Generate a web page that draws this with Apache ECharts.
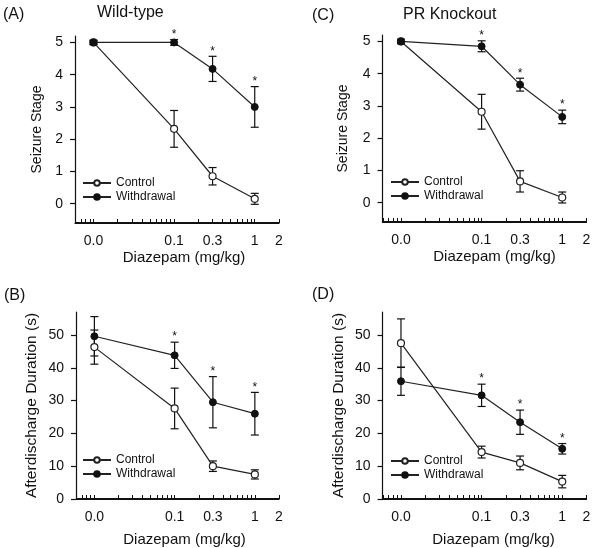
<!DOCTYPE html>
<html>
<head>
<meta charset="utf-8">
<script src="https://cdn.jsdelivr.net/npm/echarts@6/dist/echarts.min.js"></script>
<style>html,body{margin:0;padding:0;background:#fff}#c{width:600px;height:548px;background:#fff}</style>
</head>
<body>
<div id="c"></div>
<script>
// ---- data ----
// Dose groups (mg/kg). The "0.0" (vehicle) group is drawn at the 0.01 position of the log axis.
const doses = [0.01, 0.1, 0.3, 1];
const xTickValues = [0.01, 0.1, 0.3, 1, 2];
const xTickLabels = ['0.0', '0.1', '0.3', '1', '2'];
const xAllTicks = [0.006, 0.007, 0.008, 0.009, 0.01, 0.02, 0.03, 0.04, 0.05, 0.06, 0.07, 0.08, 0.09,
                   0.1, 0.2, 0.3, 0.4, 0.5, 0.6, 0.7, 0.8, 0.9, 1, 2];
const stageTicks = [0, 1, 2, 3, 4, 5];
const durationTicks = [0, 10, 20, 30, 40, 50];

// (A) Wild-type, seizure stage
const wtStageControl = [5.0, 2.32, 0.85, 0.15];
const wtStageControlErr = [0.05, 0.57, 0.27, 0.17];
const wtStageWithdrawal = [5.0, 5.0, 4.18, 3.0];
const wtStageWithdrawalErr = [0.07, 0.09, 0.39, 0.63];
// (C) PR knockout, seizure stage
const koStageControl = [5.0, 2.82, 0.66, 0.16];
const koStageControlErr = [0.05, 0.54, 0.33, 0.17];
const koStageWithdrawal = [5.0, 4.85, 3.66, 2.66];
const koStageWithdrawalErr = [0.07, 0.17, 0.2, 0.21];
// (B) Wild-type, afterdischarge duration (s)
const wtDurControl = [46.3, 27.6, 10.0, 7.5];
const wtDurControlErr = [5.2, 6.2, 1.6, 1.4];
const wtDurWithdrawal = [49.6, 43.8, 29.5, 26.0];
const wtDurWithdrawalErr = [6.0, 4.0, 7.8, 6.5];
// (D) PR knockout, afterdischarge duration (s)
const koDurControl = [47.5, 14.3, 11.0, 5.3];
const koDurControlErr = [7.4, 1.8, 2.1, 1.9];
const koDurWithdrawal = [35.9, 31.6, 23.4, 15.3];
const koDurWithdrawalErr = [4.3, 3.4, 3.7, 1.6];
// significance marks (*) on withdrawal points
const sigWithdrawal = [0, 1, 1, 1];

// ---- chart ----
const FONT = '"Liberation Sans", Arial, Helvetica, sans-serif';
const INK = '#111';
const X_MIN = 0.0059, X_MAX = 2;

const panels = [
  { label: '(A)', title: 'Wild-type', grid: {left: 75, top: 36, width: 204, height: 187},
    yMin: -0.6, yMax: 5.2, yTicks: stageTicks, yName: 'Seizure Stage', yNameGap: 31, yNameSize: 14,
    xNameGap: 27, xShift: 14,
    ctrl: wtStageControl, ctrlErr: wtStageControlErr, wd: wtStageWithdrawal, wdErr: wtStageWithdrawalErr,
    titlePos: {lx: 3, ly: 7, tx: 97, ty: 5}, legend: {left: 82, top: 177} },
  { label: '(C)', title: 'PR Knockout', grid: {left: 382.5, top: 35, width: 204, height: 187},
    yMin: -0.6, yMax: 5.2, yTicks: stageTicks, yName: 'Seizure Stage', yNameGap: 32, yNameSize: 14,
    xNameGap: 27, xShift: 20,
    ctrl: koStageControl, ctrlErr: koStageControlErr, wd: koStageWithdrawal, wdErr: koStageWithdrawalErr,
    titlePos: {lx: 312, ly: 8, tx: 403, ty: 7}, legend: {left: 390, top: 176} },
  { label: '(B)', title: '', grid: {left: 76, top: 312, width: 203, height: 188},
    yMin: 0, yMax: 57, yTicks: durationTicks, yName: 'Afterdischarge Duration (s)', yNameGap: 36, yNameSize: 15.5,
    xNameGap: 33, xShift: 14,
    ctrl: wtDurControl, ctrlErr: wtDurControlErr, wd: wtDurWithdrawal, wdErr: wtDurWithdrawalErr,
    titlePos: {lx: 4, ly: 288}, legend: {left: 82, top: 454} },
  { label: '(D)', title: '', grid: {left: 382.5, top: 312, width: 204, height: 189},
    yMin: 0, yMax: 57, yTicks: durationTicks, yName: 'Afterdischarge Duration (s)', yNameGap: 36, yNameSize: 15.5,
    xNameGap: 33, xShift: 18,
    ctrl: koDurControl, ctrlErr: koDurControlErr, wd: koDurWithdrawal, wdErr: koDurWithdrawalErr,
    titlePos: {lx: 312, ly: 287}, legend: {left: 390, top: 455} }
];

function fmtX(v) {
  let best = 0, bd = Infinity;
  xTickValues.forEach((t, i) => { const d = Math.abs(Math.log10(v) - Math.log10(t)); if (d < bd) { bd = d; best = i; } });
  return xTickLabels[best];
}

function errRender(params, api) {
  const x = api.value(0), m = api.value(1), e = api.value(2), sig = api.value(3);
  const top = api.coord([x, m + e]);
  const bot = api.coord([x, m - e]);
  const st = {stroke: INK, lineWidth: 1.2, fill: null};
  const w = 4;
  const children = [
    {type: 'line', shape: {x1: top[0], y1: top[1], x2: bot[0], y2: bot[1]}, style: st},
    {type: 'line', shape: {x1: top[0] - w, y1: top[1], x2: top[0] + w, y2: top[1]}, style: st},
    {type: 'line', shape: {x1: bot[0] - w, y1: bot[1], x2: bot[0] + w, y2: bot[1]}, style: st}
  ];
  if (sig) {
    children.push({type: 'text', x: top[0], y: top[1] - 5,
      style: {text: '*', fontSize: 12, fontFamily: FONT, fill: INK, align: 'center', verticalAlign: 'middle'}});
  }
  return {type: 'group', children};
}

const option = {
  animation: false,
  textStyle: {fontFamily: FONT, color: INK},
  title: [], grid: [], xAxis: [], yAxis: [], series: [], legend: []
};

panels.forEach((p, i) => {
  option.title.push({text: p.label, left: p.titlePos.lx, top: p.titlePos.ly, padding: 0,
    textStyle: {fontSize: 16, fontWeight: 'normal', color: INK, fontFamily: FONT}});
  if (p.title) option.title.push({text: p.title, left: p.titlePos.tx, top: p.titlePos.ty, padding: 0,
    textStyle: {fontSize: 16, fontWeight: 'normal', color: INK, fontFamily: FONT}});
  option.grid.push(p.grid);
  option.xAxis.push({
    type: 'log', gridIndex: i, min: X_MIN, max: X_MAX,
    name: 'Diazepam (mg/kg)', nameLocation: 'middle', nameGap: p.xNameGap,
    nameTextStyle: {fontSize: 15, color: INK, fontFamily: FONT, padding: [0, 0, 0, p.xShift]},
    axisLine: {show: true, onZero: false, lineStyle: {color: INK, width: 1.2}},
    axisTick: {show: true, inside: true, length: 4, customValues: xAllTicks, lineStyle: {color: INK, width: 1}},
    axisLabel: {show: true, customValues: xTickValues, formatter: fmtX, fontSize: 14, color: INK, margin: 11, fontFamily: FONT},
    splitLine: {show: false}
  });
  option.yAxis.push({
    type: 'value', gridIndex: i, min: p.yMin, max: p.yMax,
    name: p.yName, nameLocation: 'middle', nameGap: p.yNameGap, nameRotate: 90,
    nameTextStyle: {fontSize: p.yNameSize, color: INK, fontFamily: FONT},
    axisLine: {show: true, lineStyle: {color: INK, width: 1.2}},
    axisTick: {show: true, inside: false, length: 5, customValues: p.yTicks, lineStyle: {color: INK, width: 1.2}},
    axisLabel: {show: true, customValues: p.yTicks, fontSize: 14, color: INK, margin: 12, fontFamily: FONT},
    splitLine: {show: false}
  });
  const mk = (vals) => doses.map((d, k) => [d, vals[k]]);
  const mkErr = (vals, errs, sig) => doses.map((d, k) => [d, vals[k], errs[k], sig ? sig[k] : 0]);
  option.series.push({type: 'custom', name: 'errCtrl' + i, xAxisIndex: i, yAxisIndex: i, z: 1,
    renderItem: errRender, data: mkErr(p.ctrl, p.ctrlErr, null), silent: true});
  option.series.push({type: 'custom', name: 'errWd' + i, xAxisIndex: i, yAxisIndex: i, z: 1,
    renderItem: errRender, data: mkErr(p.wd, p.wdErr, sigWithdrawal), silent: true});
  option.series.push({type: 'line', name: 'Control', xAxisIndex: i, yAxisIndex: i, z: 3,
    data: mk(p.ctrl), symbol: 'circle', symbolSize: 7, showAllSymbol: true,
    lineStyle: {color: '#222', width: 1.2},
    itemStyle: {color: '#fff', borderColor: '#222', borderWidth: 1.2}});
  option.series.push({type: 'line', name: 'Withdrawal', xAxisIndex: i, yAxisIndex: i, z: 4,
    data: mk(p.wd), symbol: 'circle', symbolSize: 7, showAllSymbol: true,
    lineStyle: {color: '#222', width: 1.2},
    itemStyle: {color: '#111', borderColor: '#111', borderWidth: 1}});
  option.legend.push({
    data: ['Control', 'Withdrawal'], orient: 'vertical', left: p.legend.left, top: p.legend.top,
    padding: 0, itemGap: 2, itemWidth: 28, itemHeight: 7, selectedMode: false,
    textStyle: {fontSize: 12, color: INK, fontFamily: FONT}
  });
});

const chart = echarts.init(document.getElementById('c'), null, {renderer: 'canvas'});
chart.setOption(option);

// Fallback bottom baseline, positioned through the chart's own scales.
try {
  const baselines = panels.map((p, i) => {
    const finder = {xAxisIndex: i, yAxisIndex: i};
    const a = chart.convertToPixel(finder, [X_MIN, p.yMin]);
    const b = chart.convertToPixel(finder, [X_MAX, p.yMin]);
    return {type: 'line', z: 100, silent: true,
      shape: {x1: a[0], y1: a[1] - 0.5, x2: b[0], y2: b[1] - 0.5},
      style: {stroke: INK, lineWidth: 1.2}};
  });
  chart.setOption({graphic: {elements: baselines}});
} catch (e) { console.error(e); }
</script>
</body>
</html>
